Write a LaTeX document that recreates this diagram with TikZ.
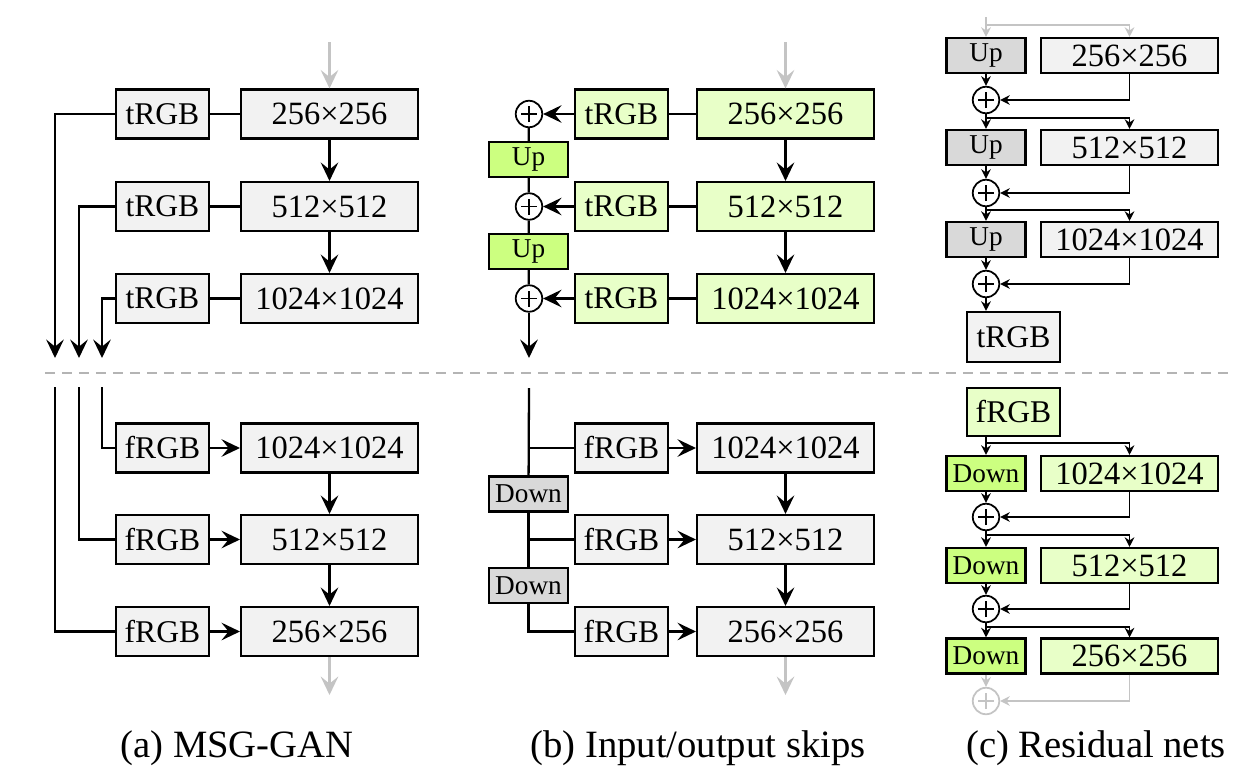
\documentclass[tikz,border=0pt]{standalone}
\usepackage{fontspec}
\setmainfont{Liberation Serif}
\newfontfamily\figfont{Liberation Serif}
\usepackage{xcolor}
\usepackage{tikz}
\usetikzlibrary{arrows.meta, positioning, calc}
\definecolor{boxgray}{HTML}{F2F2F2}
\definecolor{opgray}{HTML}{D9D9D9}
\definecolor{boxgreen}{HTML}{E8FFC8}
\definecolor{opgreen}{HTML}{CCFF80}
\definecolor{fadegray}{HTML}{C4C4C4}
\definecolor{dashgray}{HTML}{B4B4B4}
\tikzset{
  block/.style={rectangle, draw=black, line width=1.2pt, fill=boxgray, minimum width=3.54cm, minimum height=0.98cm, inner sep=0pt, text centered, font=\figfont\fontsize{18.5}{20}\selectfont},
  rgbblock/.style={block, minimum width=1.86cm, font=\figfont\fontsize{18}{20}\selectfont},
  resblock/.style={block, minimum height=0.7cm},
  sampler/.style={rectangle, draw=black, line width=1.2pt, fill=opgray, minimum width=1.58cm, minimum height=0.7cm, inner sep=0pt, text centered, font=\figfont\fontsize{15.5}{17}\selectfont},
  adder/.style={circle, draw=#1, line width=1pt, fill=white, minimum size=0.53cm, inner sep=0pt,
    path picture={\draw[line width=0.6pt, #1] ([xshift=-0.16cm]path picture bounding box.center) -- ([xshift=0.16cm]path picture bounding box.center)
      ([yshift=-0.16cm]path picture bounding box.center) -- ([yshift=0.16cm]path picture bounding box.center);}},
  adder/.default=black,
  link/.style={line width=1.3pt},
  arrow/.style={line width=1.3pt, -{Stealth[length=10.5pt, width=10pt, inset=4pt]}},
  fadearrow/.style={arrow, draw=fadegray},
  thinarrow/.style={line width=1pt, -{Stealth[length=5.5pt, width=5.5pt, inset=1.8pt]}},
  fadethin/.style={thinarrow, draw=fadegray},
  divider/.style={line width=1.2pt, draw=dashgray, dash pattern=on 0.2cm off 0.14cm},
  caption/.style={font=\figfont\fontsize{22}{24}\selectfont}
}

\begin{document}
\begin{tikzpicture}[x=0.02cm, y=-0.02cm]
\useasboundingbox (0,0) rectangle (1240,771);

% (a) MSG-GAN, generator
\node[block] (a1) at (329.5,114) {256×256};
\node[block] (a2) at (329.5,206.5) {512×512};
\node[block] (a3) at (329.5,298.5) {1024×1024};
\node[rgbblock, left=0.6cm of a1] (ta1) {tRGB};
\node[rgbblock, left=0.6cm of a2] (ta2) {tRGB};
\node[rgbblock, left=0.6cm of a3] (ta3) {tRGB};
\coordinate (ain) at (329.5,42);
\coordinate (aout1) at (55,358);
\coordinate (aout2) at (79,358);
\coordinate (aout3) at (102,358);
\draw[fadearrow] (ain) -- (a1);
\draw[arrow] (a1) -- (a2);
\draw[arrow] (a2) -- (a3);
\draw[link] (a1) -- (ta1);
\draw[link] (a2) -- (ta2);
\draw[link] (a3) -- (ta3);
\draw[arrow] (ta1) -| (aout1);
\draw[arrow] (ta2) -| (aout2);
\draw[arrow] (ta3) -| (aout3);

% (a) MSG-GAN, discriminator
\node[block] (a4) at (329.5,448) {1024×1024};
\node[block] (a5) at (329.5,539.5) {512×512};
\node[block] (a6) at (329.5,631.5) {256×256};
\node[rgbblock, left=0.6cm of a4] (fa4) {fRGB};
\node[rgbblock, left=0.6cm of a5] (fa5) {fRGB};
\node[rgbblock, left=0.6cm of a6] (fa6) {fRGB};
\coordinate (ain1) at (102,387);
\coordinate (ain2) at (79,387);
\coordinate (ain3) at (55,387);
\coordinate (aend) at (329.5,695);
\draw[link] (ain1) |- (fa4);
\draw[link] (ain2) |- (fa5);
\draw[link] (ain3) |- (fa6);
\draw[arrow] (fa4) -- (a4);
\draw[arrow] (fa5) -- (a5);
\draw[arrow] (fa6) -- (a6);
\draw[arrow] (a4) -- (a5);
\draw[arrow] (a5) -- (a6);
\draw[fadearrow] (a6) -- (aend);

% (b) input/output skips, generator
\node[block, fill=boxgreen] (b1) at (785.5,114) {256×256};
\node[block, fill=boxgreen] (b2) at (785.5,206.5) {512×512};
\node[block, fill=boxgreen] (b3) at (785.5,298.5) {1024×1024};
\node[rgbblock, fill=boxgreen, left=0.54cm of b1] (tb1) {tRGB};
\node[rgbblock, fill=boxgreen, left=0.54cm of b2] (tb2) {tRGB};
\node[rgbblock, fill=boxgreen, left=0.54cm of b3] (tb3) {tRGB};
\node[adder] (pb1) at (529,114) {};
\node[adder] (pb2) at (529,206.5) {};
\node[adder] (pb3) at (529,298.5) {};
\node[sampler, fill=opgreen] (ub1) at (528.5,159.5) {Up};
\node[sampler, fill=opgreen] (ub2) at (528.5,251.5) {Up};
\coordinate (bin) at (785.5,42);
\coordinate (bout) at (529,358);
\draw[fadearrow] (bin) -- (b1);
\draw[arrow] (b1) -- (b2);
\draw[arrow] (b2) -- (b3);
\draw[link] (b1) -- (tb1);
\draw[link] (b2) -- (tb2);
\draw[link] (b3) -- (tb3);
\draw[arrow] (tb1) -- (pb1);
\draw[arrow] (tb2) -- (pb2);
\draw[arrow] (tb3) -- (pb3);
\draw[link] (pb1) -- (ub1) -- (pb2) -- (ub2) -- (pb3);
\draw[arrow] (pb3) -- (bout);

% (b) input/output skips, discriminator
\node[block] (b4) at (785.5,448) {1024×1024};
\node[block] (b5) at (785.5,539.5) {512×512};
\node[block] (b6) at (785.5,631.5) {256×256};
\node[rgbblock, left=0.54cm of b4] (fb4) {fRGB};
\node[rgbblock, left=0.54cm of b5] (fb5) {fRGB};
\node[rgbblock, left=0.54cm of b6] (fb6) {fRGB};
\node[sampler] (db1) at (528.5,494) {Down};
\node[sampler] (db2) at (528.5,585.5) {Down};
\coordinate (btop) at (529,388);
\coordinate (bend) at (785.5,695);
\draw[link] (btop) -- (db1);
\draw[link] (db1) -- (db2);
\draw[link] (db2) |- (fb6);
\draw[link] (btop |- fb4) -- (fb4);
\draw[link] (db1 |- fb5) -- (fb5);
\draw[arrow] (fb4) -- (b4);
\draw[arrow] (fb5) -- (b5);
\draw[arrow] (fb6) -- (b6);
\draw[arrow] (b4) -- (b5);
\draw[arrow] (b5) -- (b6);
\draw[fadearrow] (b6) -- (bend);

% (c) residual nets, generator
\node[sampler] (cu1) at (986,55.5) {Up};
\node[sampler] (cu2) at (986,147.5) {Up};
\node[sampler] (cu3) at (986,239.5) {Up};
\node[resblock] (c1) at (1129.5,55.5) {256×256};
\node[resblock] (c2) at (1129.5,147.5) {512×512};
\node[resblock] (c3) at (1129.5,239.5) {1024×1024};
\node[adder] (cp1) at (986,100) {};
\node[adder] (cp2) at (986,193) {};
\node[adder] (cp3) at (986,284) {};
\node[rgbblock, minimum height=1cm] (ct) at (1013.5,337) {tRGB};
\coordinate (ctop1) at (986,17);
\coordinate (ctop2) at (986,25);
\coordinate (cs2) at (986,118);
\coordinate (cs3) at (986,210);
\draw[fadethin] (ctop1) -- (cu1);
\draw[fadethin] (ctop2) -| (c1);
\draw[thinarrow] (cu1) -- (cp1);
\draw[thinarrow] (c1) |- (cp1);
\draw[thinarrow] (cp1) -- (cu2);
\draw[thinarrow] (cs2) -| (c2);
\draw[thinarrow] (cu2) -- (cp2);
\draw[thinarrow] (c2) |- (cp2);
\draw[thinarrow] (cp2) -- (cu3);
\draw[thinarrow] (cs3) -| (c3);
\draw[thinarrow] (cu3) -- (cp3);
\draw[thinarrow] (c3) |- (cp3);
\draw[thinarrow] (cp3) -- (cp3 |- ct.north);

% (c) residual nets, discriminator
\node[rgbblock, fill=boxgreen, minimum height=0.96cm] (cf) at (1013.5,412) {fRGB};
\node[sampler, fill=opgreen] (cd1) at (986,473.5) {Down};
\node[sampler, fill=opgreen] (cd2) at (986,565.5) {Down};
\node[sampler, fill=opgreen] (cd3) at (986,656) {Down};
\node[resblock, fill=boxgreen] (c4) at (1129.5,473.5) {1024×1024};
\node[resblock, fill=boxgreen] (c5) at (1129.5,565.5) {512×512};
\node[resblock, fill=boxgreen] (c6) at (1129.5,656) {256×256};
\node[adder] (cp4) at (986,517) {};
\node[adder] (cp5) at (986,609) {};
\node[adder=fadegray] (cp6) at (986,701) {};
\coordinate (cs4) at (986,443);
\coordinate (cs5) at (986,535);
\coordinate (cs6) at (986,627);
\draw[thinarrow] (cf.south -| cd1) -- (cd1);
\draw[thinarrow] (cs4) -| (c4);
\draw[thinarrow] (cd1) -- (cp4);
\draw[thinarrow] (c4) |- (cp4);
\draw[thinarrow] (cp4) -- (cd2);
\draw[thinarrow] (cs5) -| (c5);
\draw[thinarrow] (cd2) -- (cp5);
\draw[thinarrow] (c5) |- (cp5);
\draw[thinarrow] (cp5) -- (cd3);
\draw[thinarrow] (cs6) -| (c6);
\draw[fadethin] (cd3) -- (cp6);
\draw[fadethin] (c6) |- (cp6);

% separator and captions
\coordinate (sepl) at (45,373);
\coordinate (sepr) at (1232,373);
\draw[divider] (sepl) -- (sepr);
\node[caption] (capa) at (237,748) {(a) MSG-GAN};
\node[caption] (capb) at (698,748) {(b) Input/output skips};
\node[caption] (capc) at (1096,748) {(c) Residual nets};
\end{tikzpicture}
\end{document}
